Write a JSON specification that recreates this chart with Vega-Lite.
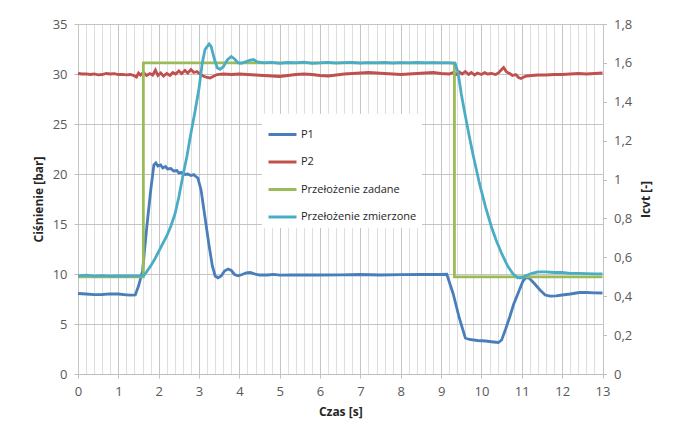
{
  "$schema": "https://vega.github.io/schema/vega-lite/v6.json",
  "width": 524.5,
  "height": 350,
  "autosize": "none",
  "padding": {"left": 78, "top": 24, "right": 75.5, "bottom": 62},
  "background": "white",
  "config": {
    "view": {"stroke": null},
    "font": "Open Sans",
    "axis": {
      "labelFont": "Open Sans",
      "labelFontSize": 13,
      "labelColor": "#595959",
      "titleFont": "Open Sans",
      "titleFontSize": 12,
      "titleFontWeight": "bold",
      "titleColor": "#262626",
      "domainColor": "#bfbfbf",
      "tickColor": "#bfbfbf",
      "tickSize": 4,
      "gridWidth": 1
    }
  },
  "datasets": {
    "bar": [
      {"t": 0, "v": 8.05, "s": "P1"}, {"t": 0.2, "v": 8.0, "s": "P1"}, {"t": 0.4, "v": 7.93, "s": "P1"}, {"t": 0.6, "v": 7.95, "s": "P1"}, {"t": 0.8, "v": 8.02, "s": "P1"}, {"t": 1.0, "v": 8.0, "s": "P1"}, {"t": 1.2, "v": 7.92, "s": "P1"}, {"t": 1.3, "v": 7.88, "s": "P1"}, {"t": 1.42, "v": 7.9, "s": "P1"}, {"t": 1.5, "v": 8.8, "s": "P1"}, {"t": 1.6, "v": 10.3, "s": "P1"}, {"t": 1.7, "v": 14.5, "s": "P1"}, {"t": 1.8, "v": 18.3, "s": "P1"}, {"t": 1.88, "v": 20.9, "s": "P1"}, {"t": 1.93, "v": 21.1, "s": "P1"}, {"t": 1.98, "v": 20.8, "s": "P1"}, {"t": 2.05, "v": 20.9, "s": "P1"}, {"t": 2.1, "v": 20.6, "s": "P1"}, {"t": 2.17, "v": 20.75, "s": "P1"}, {"t": 2.22, "v": 20.5, "s": "P1"}, {"t": 2.3, "v": 20.55, "s": "P1"}, {"t": 2.37, "v": 20.3, "s": "P1"}, {"t": 2.45, "v": 20.35, "s": "P1"}, {"t": 2.5, "v": 20.1, "s": "P1"}, {"t": 2.57, "v": 20.15, "s": "P1"}, {"t": 2.65, "v": 19.95, "s": "P1"}, {"t": 2.72, "v": 20.0, "s": "P1"}, {"t": 2.8, "v": 19.85, "s": "P1"}, {"t": 2.87, "v": 19.95, "s": "P1"}, {"t": 2.92, "v": 19.75, "s": "P1"}, {"t": 2.97, "v": 19.6, "s": "P1"}, {"t": 3.05, "v": 18.4, "s": "P1"}, {"t": 3.15, "v": 15.6, "s": "P1"}, {"t": 3.25, "v": 12.8, "s": "P1"}, {"t": 3.33, "v": 10.8, "s": "P1"}, {"t": 3.4, "v": 9.8, "s": "P1"}, {"t": 3.47, "v": 9.62, "s": "P1"}, {"t": 3.55, "v": 9.8, "s": "P1"}, {"t": 3.63, "v": 10.3, "s": "P1"}, {"t": 3.72, "v": 10.5, "s": "P1"}, {"t": 3.8, "v": 10.35, "s": "P1"}, {"t": 3.88, "v": 9.95, "s": "P1"}, {"t": 3.97, "v": 9.82, "s": "P1"}, {"t": 4.07, "v": 9.95, "s": "P1"}, {"t": 4.17, "v": 10.12, "s": "P1"}, {"t": 4.27, "v": 10.15, "s": "P1"}, {"t": 4.37, "v": 10.02, "s": "P1"}, {"t": 4.5, "v": 9.9, "s": "P1"}, {"t": 4.7, "v": 9.9, "s": "P1"}, {"t": 4.85, "v": 9.97, "s": "P1"}, {"t": 5.0, "v": 9.88, "s": "P1"}, {"t": 5.3, "v": 9.9, "s": "P1"}, {"t": 5.6, "v": 9.92, "s": "P1"}, {"t": 6.0, "v": 9.9, "s": "P1"}, {"t": 6.5, "v": 9.92, "s": "P1"}, {"t": 7.0, "v": 9.95, "s": "P1"}, {"t": 7.5, "v": 9.9, "s": "P1"}, {"t": 8.0, "v": 9.93, "s": "P1"}, {"t": 8.5, "v": 9.95, "s": "P1"}, {"t": 9.0, "v": 9.95, "s": "P1"}, {"t": 9.14, "v": 9.97, "s": "P1"}, {"t": 9.3, "v": 8.0, "s": "P1"}, {"t": 9.45, "v": 5.6, "s": "P1"}, {"t": 9.6, "v": 3.6, "s": "P1"}, {"t": 9.7, "v": 3.45, "s": "P1"}, {"t": 9.9, "v": 3.35, "s": "P1"}, {"t": 10.1, "v": 3.3, "s": "P1"}, {"t": 10.3, "v": 3.2, "s": "P1"}, {"t": 10.42, "v": 3.15, "s": "P1"}, {"t": 10.5, "v": 3.4, "s": "P1"}, {"t": 10.6, "v": 4.5, "s": "P1"}, {"t": 10.7, "v": 5.7, "s": "P1"}, {"t": 10.8, "v": 7.0, "s": "P1"}, {"t": 10.94, "v": 8.4, "s": "P1"}, {"t": 11.03, "v": 9.3, "s": "P1"}, {"t": 11.1, "v": 9.65, "s": "P1"}, {"t": 11.18, "v": 9.6, "s": "P1"}, {"t": 11.3, "v": 9.1, "s": "P1"}, {"t": 11.45, "v": 8.4, "s": "P1"}, {"t": 11.58, "v": 7.9, "s": "P1"}, {"t": 11.7, "v": 7.78, "s": "P1"}, {"t": 11.85, "v": 7.82, "s": "P1"}, {"t": 12.0, "v": 7.9, "s": "P1"}, {"t": 12.2, "v": 8.0, "s": "P1"}, {"t": 12.43, "v": 8.15, "s": "P1"}, {"t": 12.6, "v": 8.15, "s": "P1"}, {"t": 12.8, "v": 8.12, "s": "P1"}, {"t": 13.0, "v": 8.1, "s": "P1"},
      {"t": 0, "v": 30.05, "s": "P2"}, {"t": 0.1, "v": 30.0, "s": "P2"}, {"t": 0.2, "v": 30.02, "s": "P2"}, {"t": 0.3, "v": 29.95, "s": "P2"}, {"t": 0.4, "v": 30.0, "s": "P2"}, {"t": 0.5, "v": 29.92, "s": "P2"}, {"t": 0.6, "v": 29.95, "s": "P2"}, {"t": 0.7, "v": 30.05, "s": "P2"}, {"t": 0.8, "v": 30.0, "s": "P2"}, {"t": 0.9, "v": 30.03, "s": "P2"}, {"t": 1.0, "v": 29.95, "s": "P2"}, {"t": 1.1, "v": 29.97, "s": "P2"}, {"t": 1.2, "v": 29.92, "s": "P2"}, {"t": 1.3, "v": 29.95, "s": "P2"}, {"t": 1.38, "v": 29.85, "s": "P2"}, {"t": 1.45, "v": 29.7, "s": "P2"}, {"t": 1.5, "v": 30.1, "s": "P2"}, {"t": 1.55, "v": 29.9, "s": "P2"}, {"t": 1.62, "v": 30.15, "s": "P2"}, {"t": 1.7, "v": 29.85, "s": "P2"}, {"t": 1.78, "v": 30.05, "s": "P2"}, {"t": 1.85, "v": 29.9, "s": "P2"}, {"t": 1.92, "v": 30.4, "s": "P2"}, {"t": 1.98, "v": 29.85, "s": "P2"}, {"t": 2.05, "v": 30.1, "s": "P2"}, {"t": 2.12, "v": 29.8, "s": "P2"}, {"t": 2.2, "v": 30.05, "s": "P2"}, {"t": 2.28, "v": 29.85, "s": "P2"}, {"t": 2.35, "v": 30.15, "s": "P2"}, {"t": 2.42, "v": 30.0, "s": "P2"}, {"t": 2.5, "v": 30.3, "s": "P2"}, {"t": 2.57, "v": 30.05, "s": "P2"}, {"t": 2.65, "v": 30.35, "s": "P2"}, {"t": 2.72, "v": 30.1, "s": "P2"}, {"t": 2.8, "v": 30.45, "s": "P2"}, {"t": 2.87, "v": 30.15, "s": "P2"}, {"t": 2.95, "v": 30.25, "s": "P2"}, {"t": 3.02, "v": 30.0, "s": "P2"}, {"t": 3.1, "v": 29.8, "s": "P2"}, {"t": 3.2, "v": 29.65, "s": "P2"}, {"t": 3.27, "v": 29.6, "s": "P2"}, {"t": 3.35, "v": 29.75, "s": "P2"}, {"t": 3.45, "v": 29.95, "s": "P2"}, {"t": 3.6, "v": 30.0, "s": "P2"}, {"t": 3.8, "v": 29.95, "s": "P2"}, {"t": 4.0, "v": 30.0, "s": "P2"}, {"t": 4.2, "v": 29.95, "s": "P2"}, {"t": 4.4, "v": 29.9, "s": "P2"}, {"t": 4.6, "v": 29.85, "s": "P2"}, {"t": 4.8, "v": 29.8, "s": "P2"}, {"t": 5.0, "v": 29.75, "s": "P2"}, {"t": 5.2, "v": 29.85, "s": "P2"}, {"t": 5.4, "v": 29.95, "s": "P2"}, {"t": 5.6, "v": 30.0, "s": "P2"}, {"t": 5.8, "v": 29.95, "s": "P2"}, {"t": 6.0, "v": 29.85, "s": "P2"}, {"t": 6.2, "v": 29.8, "s": "P2"}, {"t": 6.4, "v": 29.9, "s": "P2"}, {"t": 6.6, "v": 30.0, "s": "P2"}, {"t": 6.8, "v": 30.05, "s": "P2"}, {"t": 7.0, "v": 30.1, "s": "P2"}, {"t": 7.2, "v": 30.15, "s": "P2"}, {"t": 7.4, "v": 30.1, "s": "P2"}, {"t": 7.6, "v": 30.05, "s": "P2"}, {"t": 7.8, "v": 30.0, "s": "P2"}, {"t": 8.0, "v": 29.95, "s": "P2"}, {"t": 8.2, "v": 30.0, "s": "P2"}, {"t": 8.4, "v": 30.05, "s": "P2"}, {"t": 8.6, "v": 30.1, "s": "P2"}, {"t": 8.8, "v": 30.15, "s": "P2"}, {"t": 9.0, "v": 30.05, "s": "P2"}, {"t": 9.2, "v": 30.0, "s": "P2"}, {"t": 9.3, "v": 30.15, "s": "P2"}, {"t": 9.37, "v": 29.95, "s": "P2"}, {"t": 9.45, "v": 30.2, "s": "P2"}, {"t": 9.52, "v": 30.0, "s": "P2"}, {"t": 9.6, "v": 30.25, "s": "P2"}, {"t": 9.68, "v": 29.95, "s": "P2"}, {"t": 9.75, "v": 30.15, "s": "P2"}, {"t": 9.83, "v": 29.9, "s": "P2"}, {"t": 9.9, "v": 30.1, "s": "P2"}, {"t": 10.0, "v": 29.95, "s": "P2"}, {"t": 10.08, "v": 30.15, "s": "P2"}, {"t": 10.15, "v": 30.0, "s": "P2"}, {"t": 10.25, "v": 30.05, "s": "P2"}, {"t": 10.35, "v": 29.95, "s": "P2"}, {"t": 10.42, "v": 30.1, "s": "P2"}, {"t": 10.5, "v": 30.45, "s": "P2"}, {"t": 10.55, "v": 30.65, "s": "P2"}, {"t": 10.62, "v": 30.2, "s": "P2"}, {"t": 10.7, "v": 30.05, "s": "P2"}, {"t": 10.77, "v": 29.85, "s": "P2"}, {"t": 10.85, "v": 29.95, "s": "P2"}, {"t": 10.92, "v": 29.65, "s": "P2"}, {"t": 10.98, "v": 29.55, "s": "P2"}, {"t": 11.05, "v": 29.7, "s": "P2"}, {"t": 11.12, "v": 29.8, "s": "P2"}, {"t": 11.25, "v": 29.85, "s": "P2"}, {"t": 11.4, "v": 29.9, "s": "P2"}, {"t": 11.6, "v": 29.9, "s": "P2"}, {"t": 11.8, "v": 29.95, "s": "P2"}, {"t": 12.0, "v": 29.95, "s": "P2"}, {"t": 12.2, "v": 30.0, "s": "P2"}, {"t": 12.4, "v": 30.05, "s": "P2"}, {"t": 12.6, "v": 30.0, "s": "P2"}, {"t": 12.8, "v": 30.05, "s": "P2"}, {"t": 13.0, "v": 30.1, "s": "P2"}
    ],
    "icvt": [
      {"t": 0, "v": 0.5, "s": "Przełożenie zadane"}, {"t": 1.62, "v": 0.5, "s": "Przełożenie zadane"}, {"t": 1.62, "v": 1.6, "s": "Przełożenie zadane"}, {"t": 9.33, "v": 1.6, "s": "Przełożenie zadane"}, {"t": 9.33, "v": 0.5, "s": "Przełożenie zadane"}, {"t": 13, "v": 0.5, "s": "Przełożenie zadane"},
      {"t": 0, "v": 0.505, "s": "Przełożenie zmierzone"}, {"t": 0.2, "v": 0.508, "s": "Przełożenie zmierzone"}, {"t": 0.4, "v": 0.503, "s": "Przełożenie zmierzone"}, {"t": 0.6, "v": 0.506, "s": "Przełożenie zmierzone"}, {"t": 0.8, "v": 0.503, "s": "Przełożenie zmierzone"}, {"t": 1.0, "v": 0.505, "s": "Przełożenie zmierzone"}, {"t": 1.2, "v": 0.504, "s": "Przełożenie zmierzone"}, {"t": 1.4, "v": 0.505, "s": "Przełożenie zmierzone"}, {"t": 1.62, "v": 0.505, "s": "Przełożenie zmierzone"}, {"t": 1.7, "v": 0.525, "s": "Przełożenie zmierzone"}, {"t": 1.8, "v": 0.555, "s": "Przełożenie zmierzone"}, {"t": 1.9, "v": 0.59, "s": "Przełożenie zmierzone"}, {"t": 2.0, "v": 0.63, "s": "Przełożenie zmierzone"}, {"t": 2.1, "v": 0.67, "s": "Przełożenie zmierzone"}, {"t": 2.2, "v": 0.71, "s": "Przełożenie zmierzone"}, {"t": 2.3, "v": 0.76, "s": "Przełożenie zmierzone"}, {"t": 2.4, "v": 0.82, "s": "Przełożenie zmierzone"}, {"t": 2.5, "v": 0.91, "s": "Przełożenie zmierzone"}, {"t": 2.6, "v": 1.02, "s": "Przełożenie zmierzone"}, {"t": 2.7, "v": 1.12, "s": "Przełożenie zmierzone"}, {"t": 2.8, "v": 1.24, "s": "Przełożenie zmierzone"}, {"t": 2.9, "v": 1.35, "s": "Przełożenie zmierzone"}, {"t": 3.0, "v": 1.47, "s": "Przełożenie zmierzone"}, {"t": 3.08, "v": 1.6, "s": "Przełożenie zmierzone"}, {"t": 3.15, "v": 1.67, "s": "Przełożenie zmierzone"}, {"t": 3.25, "v": 1.697, "s": "Przełożenie zmierzone"}, {"t": 3.3, "v": 1.685, "s": "Przełożenie zmierzone"}, {"t": 3.38, "v": 1.62, "s": "Przełożenie zmierzone"}, {"t": 3.45, "v": 1.575, "s": "Przełożenie zmierzone"}, {"t": 3.52, "v": 1.567, "s": "Przełożenie zmierzone"}, {"t": 3.6, "v": 1.58, "s": "Przełożenie zmierzone"}, {"t": 3.7, "v": 1.615, "s": "Przełożenie zmierzone"}, {"t": 3.8, "v": 1.633, "s": "Przełożenie zmierzone"}, {"t": 3.88, "v": 1.62, "s": "Przełożenie zmierzone"}, {"t": 3.97, "v": 1.6, "s": "Przełożenie zmierzone"}, {"t": 4.05, "v": 1.598, "s": "Przełożenie zmierzone"}, {"t": 4.15, "v": 1.605, "s": "Przełożenie zmierzone"}, {"t": 4.25, "v": 1.613, "s": "Przełożenie zmierzone"}, {"t": 4.35, "v": 1.617, "s": "Przełożenie zmierzone"}, {"t": 4.45, "v": 1.605, "s": "Przełożenie zmierzone"}, {"t": 4.6, "v": 1.6, "s": "Przełożenie zmierzone"}, {"t": 4.8, "v": 1.603, "s": "Przełożenie zmierzone"}, {"t": 5.0, "v": 1.598, "s": "Przełożenie zmierzone"}, {"t": 5.2, "v": 1.602, "s": "Przełożenie zmierzone"}, {"t": 5.4, "v": 1.6, "s": "Przełożenie zmierzone"}, {"t": 5.6, "v": 1.604, "s": "Przełożenie zmierzone"}, {"t": 5.8, "v": 1.598, "s": "Przełożenie zmierzone"}, {"t": 6.0, "v": 1.6, "s": "Przełożenie zmierzone"}, {"t": 6.2, "v": 1.603, "s": "Przełożenie zmierzone"}, {"t": 6.4, "v": 1.599, "s": "Przełożenie zmierzone"}, {"t": 6.6, "v": 1.601, "s": "Przełożenie zmierzone"}, {"t": 6.8, "v": 1.602, "s": "Przełożenie zmierzone"}, {"t": 7.0, "v": 1.599, "s": "Przełożenie zmierzone"}, {"t": 7.2, "v": 1.601, "s": "Przełożenie zmierzone"}, {"t": 7.4, "v": 1.6, "s": "Przełożenie zmierzone"}, {"t": 7.6, "v": 1.602, "s": "Przełożenie zmierzone"}, {"t": 7.8, "v": 1.599, "s": "Przełożenie zmierzone"}, {"t": 8.0, "v": 1.601, "s": "Przełożenie zmierzone"}, {"t": 8.2, "v": 1.6, "s": "Przełożenie zmierzone"}, {"t": 8.4, "v": 1.602, "s": "Przełożenie zmierzone"}, {"t": 8.6, "v": 1.6, "s": "Przełożenie zmierzone"}, {"t": 8.8, "v": 1.601, "s": "Przełożenie zmierzone"}, {"t": 9.0, "v": 1.6, "s": "Przełożenie zmierzone"}, {"t": 9.2, "v": 1.6, "s": "Przełożenie zmierzone"}, {"t": 9.35, "v": 1.597, "s": "Przełożenie zmierzone"}, {"t": 9.42, "v": 1.55, "s": "Przełożenie zmierzone"}, {"t": 9.5, "v": 1.44, "s": "Przełożenie zmierzone"}, {"t": 9.58, "v": 1.35, "s": "Przełożenie zmierzone"}, {"t": 9.7, "v": 1.22, "s": "Przełożenie zmierzone"}, {"t": 9.8, "v": 1.12, "s": "Przełożenie zmierzone"}, {"t": 9.95, "v": 0.98, "s": "Przełożenie zmierzone"}, {"t": 10.1, "v": 0.86, "s": "Przełożenie zmierzone"}, {"t": 10.25, "v": 0.755, "s": "Przełożenie zmierzone"}, {"t": 10.36, "v": 0.69, "s": "Przełożenie zmierzone"}, {"t": 10.5, "v": 0.62, "s": "Przełożenie zmierzone"}, {"t": 10.65, "v": 0.555, "s": "Przełożenie zmierzone"}, {"t": 10.78, "v": 0.515, "s": "Przełożenie zmierzone"}, {"t": 10.9, "v": 0.495, "s": "Przełożenie zmierzone"}, {"t": 11.0, "v": 0.495, "s": "Przełożenie zmierzone"}, {"t": 11.1, "v": 0.505, "s": "Przełożenie zmierzone"}, {"t": 11.25, "v": 0.518, "s": "Przełożenie zmierzone"}, {"t": 11.4, "v": 0.525, "s": "Przełożenie zmierzone"}, {"t": 11.6, "v": 0.525, "s": "Przełożenie zmierzone"}, {"t": 11.8, "v": 0.522, "s": "Przełożenie zmierzone"}, {"t": 12.0, "v": 0.522, "s": "Przełożenie zmierzone"}, {"t": 12.2, "v": 0.518, "s": "Przełożenie zmierzone"}, {"t": 12.4, "v": 0.517, "s": "Przełożenie zmierzone"}, {"t": 12.6, "v": 0.516, "s": "Przełożenie zmierzone"}, {"t": 12.8, "v": 0.515, "s": "Przełożenie zmierzone"}, {"t": 13.0, "v": 0.515, "s": "Przełożenie zmierzone"}
    ]
  },
  "encoding": {
    "x": {
      "field": "t",
      "type": "quantitative",
      "scale": {"domain": [0, 13], "nice": false, "zero": false},
      "axis": {
        "title": "Czas [s]",
        "values": [0, 0.2, 0.4, 0.6, 0.8, 1, 1.2, 1.4, 1.6, 1.8, 2, 2.2, 2.4, 2.6, 2.8, 3, 3.2, 3.4, 3.6, 3.8, 4, 4.2, 4.4, 4.6, 4.8, 5, 5.2, 5.4, 5.6, 5.8, 6, 6.2, 6.4, 6.6, 6.8, 7, 7.2, 7.4, 7.6, 7.8, 8, 8.2, 8.4, 8.6, 8.8, 9, 9.2, 9.4, 9.6, 9.8, 10, 10.2, 10.4, 10.6, 10.8, 11, 11.2, 11.4, 11.6, 11.8, 12, 12.2, 12.4, 12.6, 12.8, 13],
        "labelExpr": "datum.value % 1 === 0 ? format(datum.value, 'd') : ''",
        "labelOverlap": false,
        "labelFlush": false,
        "labelPadding": 7,
        "titlePadding": 8,
        "grid": true,
        "gridColor": {"condition": {"test": "datum.value % 1 === 0", "value": "#c4c4c4"}, "value": "#dedede"},
        "tickColor": {"condition": {"test": "datum.value % 1 === 0", "value": "#bfbfbf"}, "value": "transparent"}
      }
    },
    "color": {
      "field": "s",
      "type": "nominal",
      "scale": {
        "domain": ["P1", "P2", "Przełożenie zadane", "Przełożenie zmierzone"],
        "range": ["#4a7ebb", "#c0504d", "#9bbb59", "#4bacc6"]
      },
      "legend": {
        "orient": "none",
        "legendX": 184,
        "legendY": 90,
        "title": null,
        "symbolType": "stroke",
        "symbolSize": 784,
        "symbolStrokeWidth": 3,
        "labelFont": "Open Sans",
        "labelFontSize": 11,
        "labelColor": "#262626",
        "fillColor": "white",
        "padding": 5,
        "rowPadding": 5.5,
        "labelOffset": 3
      }
    }
  },
  "layer": [
    {
      "data": {"name": "bar"},
      "mark": {"type": "line", "strokeWidth": 2.8},
      "encoding": {
        "order": {"value": 1},
        "y": {
          "field": "v",
          "type": "quantitative",
          "scale": {"domain": [0, 35], "nice": false},
          "axis": {
            "title": "Ciśnienie [bar]",
            "values": [0, 5, 10, 15, 20, 25, 30, 35],
            "grid": true,
            "gridColor": "#c4c4c4",
            "labelPadding": 7,
            "titlePadding": 7,
            "domain": false
          }
        }
      }
    },
    {
      "data": {"name": "icvt"},
      "mark": {"type": "line", "strokeWidth": 2.8},
      "encoding": {
        "order": {"value": 1},
        "y": {
          "field": "v",
          "type": "quantitative",
          "scale": {"domain": [0, 1.8], "nice": false},
          "axis": {
            "orient": "right",
            "title": "Icvt [-]",
            "titleAngle": 270,
            "titleX": 43,
            "titleY": 175,
            "titleAlign": "center",
            "titleBaseline": "middle",
            "values": [0, 0.2, 0.4, 0.6, 0.8, 1, 1.2, 1.4, 1.6, 1.8],
            "labelExpr": "replace(format(datum.value, '.1~f'), '.', ',')",
            "grid": false,
            "labelPadding": 7,
            "domain": false
          }
        }
      }
    }
  ],
  "resolve": {"scale": {"y": "independent"}}
}
